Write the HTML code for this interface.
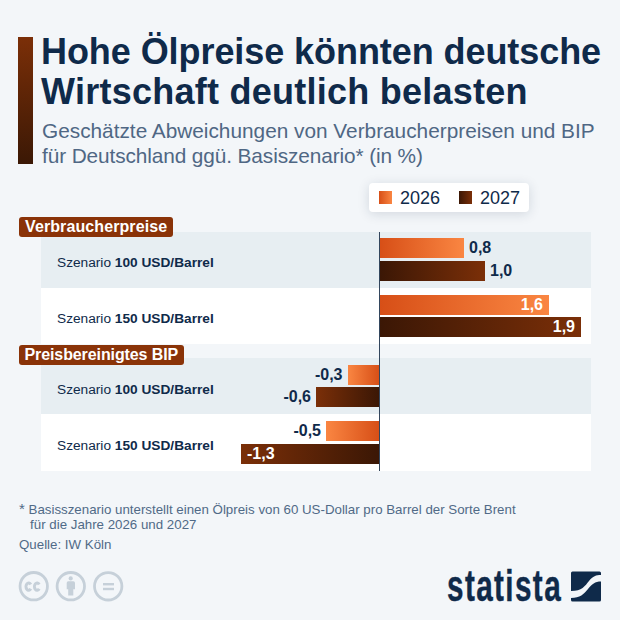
<!DOCTYPE html>
<html><head><meta charset="utf-8">
<style>
*{margin:0;padding:0;box-sizing:border-box}
html,body{width:620px;height:620px;overflow:hidden}
body{background:#f3f6f9;font-family:"Liberation Sans",sans-serif;position:relative;color:#0f2a4a}
.a{position:absolute}
#accent{left:18px;top:37px;width:15px;height:127px;background:linear-gradient(#7b2f08,#3b1805)}
#title{left:41px;top:31.5px;font-size:36px;font-weight:bold;line-height:40px;white-space:nowrap;color:#0f2a4a}
#sub{left:42px;top:118px;font-size:20.8px;line-height:25px;white-space:nowrap;color:#4f6784}
#legend{left:369px;top:183px;width:160px;height:29px;background:#fff;border-radius:4px;box-shadow:0 2px 12px rgba(20,40,70,0.15)}
.sw{position:absolute;width:13px;height:13px}
.lt{position:absolute;font-size:18px;line-height:20px;color:#0f2a4a}
.row{position:absolute;left:41px;width:550px}
.lab{position:absolute;left:19px;height:20px;background:#8a3308;border-radius:3px;color:#fff;font-weight:bold;font-size:16px;line-height:20px;padding:0 0 0 6.5px;white-space:nowrap}
.rl{position:absolute;left:57px;font-size:13.7px;line-height:16px;white-space:nowrap;color:#0f2a4a}
.bar{position:absolute;height:20px}
.y6p{background:linear-gradient(90deg,#d74f17,#fa8642)}
.y7p{background:linear-gradient(90deg,#3b1705,#7b2f08)}
.y6n{background:linear-gradient(270deg,#d74f17,#fa8642)}
.y7n{background:linear-gradient(270deg,#3b1705,#7b2f08)}
.v{position:absolute;font-size:16px;font-weight:bold;line-height:20px;white-space:nowrap;color:#0f2a4a}
.vw{color:#fff}
#foot{left:19px;top:501.5px;font-size:13.3px;line-height:15px;color:#506a87;white-space:nowrap}
#src{left:19px;top:537px;font-size:13.3px;line-height:15px;color:#506a87;white-space:nowrap}
</style></head><body>
<div id="accent" class="a"></div>
<div id="title" class="a"><span style="letter-spacing:-0.07px">Hohe Ölpreise könnten deutsche</span><br><span style="letter-spacing:0.25px">Wirtschaft deutlich belasten</span></div>
<div id="sub" class="a">Geschätzte Abweichungen von Verbraucherpreisen und BIP<br><span style="letter-spacing:-0.1px">für Deutschland ggü. Basiszenario* (in %)</span></div>

<div id="legend" class="a">
  <div class="sw y6p" style="left:10px;top:8px"></div>
  <div class="lt" style="left:31px;top:5px">2026</div>
  <div class="sw y7p" style="left:90px;top:8px"></div>
  <div class="lt" style="left:111px;top:5px">2027</div>
</div>

<div class="row" style="top:231.5px;height:56px;background:#e7eef2"></div>
<div class="row" style="top:287.5px;height:56.5px;background:#fff"></div>
<div class="row" style="top:358px;height:56px;background:#e7eef2"></div>
<div class="row" style="top:414px;height:56.5px;background:#fff"></div>

<div class="lab" style="top:217px;width:154px;padding-left:6px;letter-spacing:0.1px">Verbraucherpreise</div>
<div class="lab" style="top:345px;width:165px;padding-left:5.5px;letter-spacing:-0.1px">Preisbereinigtes BIP</div>

<div class="rl" style="top:255px">Szenario <b>100 USD/Barrel</b></div>
<div class="rl" style="top:311px">Szenario <b>150 USD/Barrel</b></div>
<div class="rl" style="top:382px">Szenario <b>100 USD/Barrel</b></div>
<div class="rl" style="top:438px">Szenario <b>150 USD/Barrel</b></div>

<div class="a" style="left:379px;top:231.5px;width:1.2px;height:239px;background:#33465d"></div>

<div class="bar y6p" style="left:380px;top:238px;width:84px"></div>
<div class="bar y7p" style="left:380px;top:260.7px;width:105.4px"></div>
<div class="bar y6p" style="left:380px;top:294.5px;width:169px"></div>
<div class="bar y7p" style="left:380px;top:317px;width:200.6px"></div>
<div class="bar y6n" style="left:347.6px;top:365px;width:31.4px"></div>
<div class="bar y7n" style="left:315.6px;top:387px;width:63.4px"></div>
<div class="bar y6n" style="left:326px;top:421.4px;width:53px"></div>
<div class="bar y7n" style="left:241px;top:444px;width:138px"></div>

<div class="v" style="left:469px;top:238px">0,8</div>
<div class="v" style="left:490px;top:260.7px">1,0</div>
<div class="v vw" style="right:77px;top:294.5px">1,6</div>
<div class="v vw" style="right:45px;top:317px">1,9</div>
<div class="v" style="right:277.5px;top:365px">-0,3</div>
<div class="v" style="right:309px;top:387px">-0,6</div>
<div class="v" style="right:299px;top:421.4px">-0,5</div>
<div class="v vw" style="left:247px;top:444px">-1,3</div>

<div id="foot" class="a"><span style="font-size:15px;line-height:10px">*</span>&nbsp;Basisszenario unterstellt einen Ölpreis von 60 US-Dollar pro Barrel der Sorte Brent<br>&nbsp;&nbsp;&nbsp;für die Jahre 2026 und 2027</div>
<div id="src" class="a">Quelle: IW Köln</div>

<svg class="a" style="left:0;top:560px" width="140" height="50" viewBox="0 560 140 50">
  <g fill="none" stroke="#c6d0d9" stroke-width="2.8">
    <circle cx="33.75" cy="586.2" r="13.7"/>
    <circle cx="70.8" cy="586.2" r="13.7"/>
    <circle cx="108.2" cy="586.3" r="13.7"/>
    <path d="M30.73 584.48 A2.6 3.7 0 1 0 30.73 588.72 M39.18 584.48 A2.6 3.7 0 1 0 39.18 588.72" stroke-width="3"/>
  </g>
  <g fill="#c6d0d9">
    <circle cx="70.7" cy="578.4" r="2.1"/>
    <path d="M68.3 581.3 H73.3 Q75 581.3 75 583 V589.3 H73.3 V595.6 H68.2 V589.3 H66.7 V583 Q66.7 581.3 68.3 581.3 Z"/>
    <rect x="103" y="583" width="11" height="2.4"/>
    <rect x="103" y="587.8" width="11" height="2.4"/>
  </g>
</svg>

<svg class="a" style="left:440px;top:560px" width="180" height="50" viewBox="440 560 180 50">
  <text x="447" y="601" font-family="Liberation Sans" font-weight="bold" font-size="45" letter-spacing="2.1" fill="#0f2a4a" stroke="#0f2a4a" stroke-width="0.4" transform="translate(447 0) scale(0.66 1) translate(-447 0)">statista</text>
  <path fill="#0f2a4a" d="M572.5 571.5 H599.5 Q601 571.5 601 573 V575 C596 575 593 576 589 581 C585 586 582 591 571 591 V573 Q571 571.5 572.5 571.5 Z M601 581.5 V600 Q601 601.5 599.5 601.5 H572.5 Q571 601.5 571 600 V598 C580 598 584 594 588 589 C592 584 595 581.5 601 581.5 Z"/>
</svg>
</body></html>
